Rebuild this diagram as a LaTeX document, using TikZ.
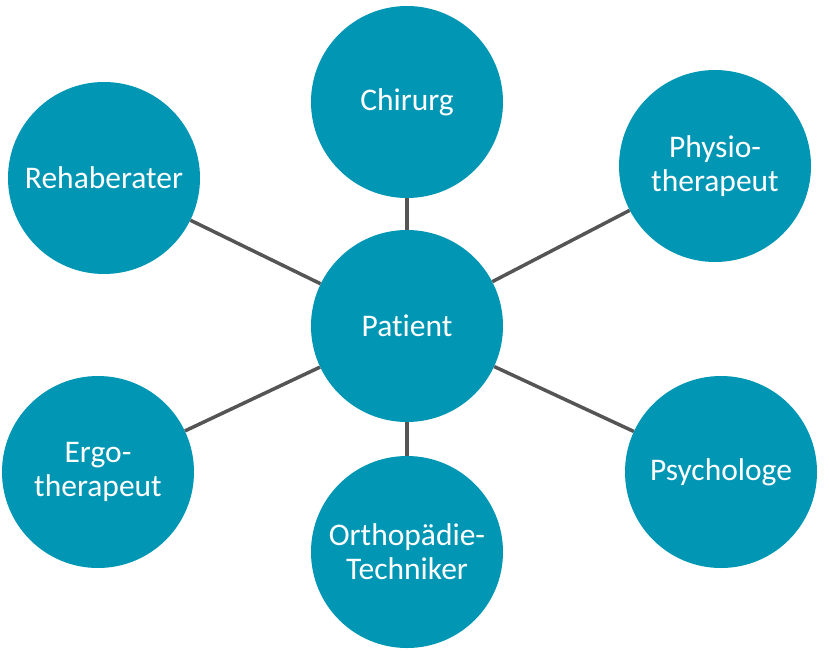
\documentclass[tikz,border=0pt]{standalone}
\usepackage{fontspec}
\setmainfont[Ligatures={NoCommon}]{Carlito}
\definecolor{teal1}{RGB}{0,150,180}
\definecolor{linegray}{RGB}{85,85,85}
\begin{document}
\begin{tikzpicture}[x=1pt,y=-1pt,
  bubble/.style={circle,fill=teal1,draw=none,minimum size=192pt,inner sep=0pt,
    text=white,align=center,font=\fontsize{31.5}{34}\selectfont},
  link/.style={draw=linegray,line width=3.5pt}]
\useasboundingbox (0,0) rectangle (829,651);
\node[bubble] (pat) at (407,326) {Patient};
\node[bubble] (chi) at (407,102) {Chirurg};
\node[bubble] (reh) at (104,178) {Rehaberater};
\node[bubble] (phy) at (715,166) {Physio-\\therapeut};
\node[bubble] (erg) at (98,472) {Ergo-\\therapeut};
\node[bubble] (psy) at (721,472) {Psychologe};
\node[bubble] (ort) at (407,552) {Orthopädie-\\Techniker};
\foreach \n in {chi,reh,phy,erg,psy,ort}{
  \draw[link] (pat) -- (\n);
}
\end{tikzpicture}
\end{document}
